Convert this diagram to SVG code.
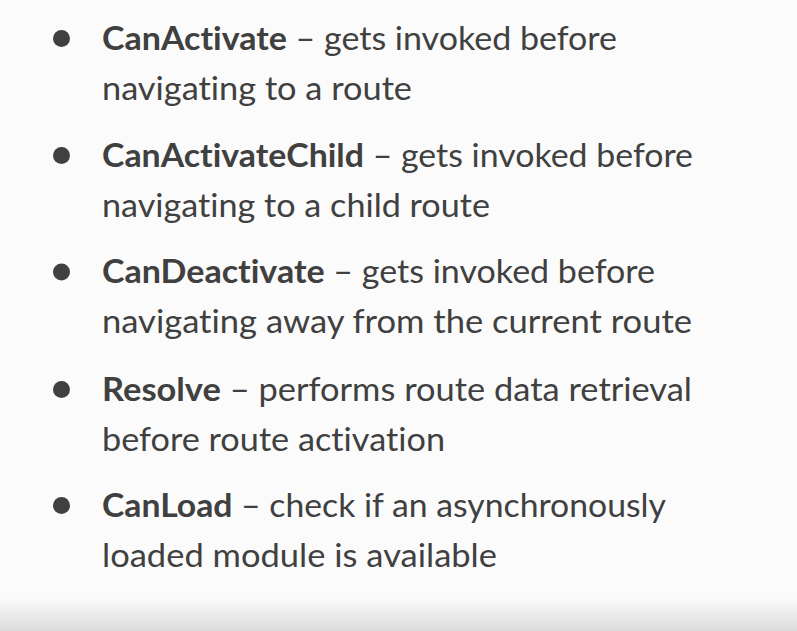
<svg xmlns="http://www.w3.org/2000/svg" width="797" height="631" viewBox="0 0 797 631">
<defs>
<linearGradient id="band" x1="0" y1="0" x2="0" y2="1">
<stop offset="0" stop-color="#fbfbfb"/>
<stop offset="1" stop-color="#dcdcdc"/>
</linearGradient>
<style>
.t{font-family:Lato,"Open Sans","Liberation Sans",sans-serif;font-size:32px;fill:#404040;font-variant-ligatures:none;font-feature-settings:"liga" 0}
.b{font-weight:bold}
.dot{fill:#404040}
</style>
</defs>
<rect width="797" height="631" fill="#fbfbfb"/>
<rect y="597" width="797" height="34" fill="url(#band)"/>
<g id="item1">
<circle class="dot" cx="61.5" cy="38.5" r="8.5"/>
<text class="t" x="102" y="49.5" textLength="515" lengthAdjust="spacingAndGlyphs"><tspan class="b">CanActivate</tspan> – gets invoked before</text>
<text class="t" x="102" y="99.5" textLength="310" lengthAdjust="spacingAndGlyphs">navigating to a route</text>
</g>
<g id="item2">
<circle class="dot" cx="61.5" cy="155.5" r="8.5"/>
<text class="t" x="102" y="166.5" textLength="591" lengthAdjust="spacingAndGlyphs"><tspan class="b">CanActivateChild</tspan> – gets invoked before</text>
<text class="t" x="102" y="216.5" textLength="388" lengthAdjust="spacingAndGlyphs">navigating to a child route</text>
</g>
<g id="item3">
<circle class="dot" cx="61.5" cy="272" r="8.5"/>
<text class="t" x="102" y="283" textLength="553" lengthAdjust="spacingAndGlyphs"><tspan class="b">CanDeactivate</tspan> – gets invoked before</text>
<text class="t" x="102" y="333" textLength="590" lengthAdjust="spacingAndGlyphs">navigating away from the current route</text>
</g>
<g id="item4">
<circle class="dot" cx="61.5" cy="389.5" r="8.5"/>
<text class="t" x="102" y="400.5" textLength="590" lengthAdjust="spacingAndGlyphs"><tspan class="b">Resolve</tspan> – performs route data retrieval</text>
<text class="t" x="102" y="450.5" textLength="343" lengthAdjust="spacingAndGlyphs">before route activation</text>
</g>
<g id="item5">
<circle class="dot" cx="61.5" cy="505.5" r="8.5"/>
<text class="t" x="102" y="516.5" textLength="564" lengthAdjust="spacingAndGlyphs"><tspan class="b">CanLoad</tspan> – check if an asynchronously</text>
<text class="t" x="102" y="566.5" textLength="395" lengthAdjust="spacingAndGlyphs">loaded module is available</text>
</g>
</svg>
